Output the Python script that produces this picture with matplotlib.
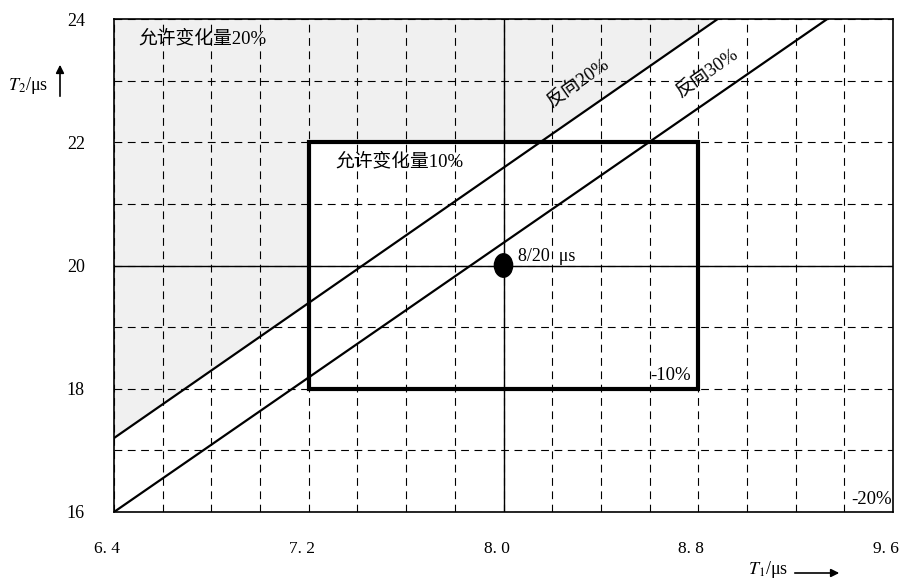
import numpy as np
import matplotlib
matplotlib.use("Agg")
import matplotlib.pyplot as plt
import matplotlib.transforms as mtransforms
from matplotlib.patches import Rectangle, Ellipse, Polygon
from matplotlib.ticker import MultipleLocator

plt.rcParams["font.family"] = ["Liberation Serif", "Noto Sans CJK SC", "DejaVu Sans"]
plt.rcParams["mathtext.fontset"] = "stix"

# ---------------------------------------------------------------------------
# Data
# ---------------------------------------------------------------------------
X_TICKS = [6.4, 7.2, 8.0, 8.8, 9.6]
X_TICK_LABELS = ["6. 4", "7. 2", "8. 0", "8. 8", "9. 6"]
Y_TICKS = [16, 18, 20, 22, 24]

# nominal 8/20 us wave
T1_NOM = 8.0
T2_NOM = 20.0

# allowed variation 10 % box
BOX_T1 = [7.2, 8.8]
BOX_T2 = [18.0, 22.0]

# "反向20%" and "反向30%" boundary lines (end points)
LINE20_T1 = [6.4, 8.88]
LINE20_T2 = [17.2, 24.0]
LINE30_T1 = [6.4, 9.33]
LINE30_T2 = [16.0, 24.0]

XMIN, XMAX = 6.4, 9.6
YMIN, YMAX = 16, 24

fig = plt.figure(figsize=(9.02, 5.82), dpi=100)
ax = fig.add_axes([114 / 902, 1 - 512 / 582, (893 - 114) / 902, (512 - 19) / 582])
ax.set_xlim(XMIN, XMAX)
ax.set_ylim(YMIN, YMAX)

# light shaded zone (20 % region outside the 10 % box)
y_at_box = np.interp(BOX_T1[0], LINE20_T1, LINE20_T2)
x_at_top = np.interp(BOX_T2[1], LINE20_T2, LINE20_T1)
shade = Polygon([(LINE20_T1[0], LINE20_T2[0]), (BOX_T1[0], y_at_box),
                 (BOX_T1[0], BOX_T2[1]), (x_at_top, BOX_T2[1]),
                 (LINE20_T1[1], LINE20_T2[1]), (XMIN, YMAX)],
                closed=True, facecolor="#f0f0f0", edgecolor="none", zorder=0)
ax.add_patch(shade)

# dashed grid
ax.xaxis.set_minor_locator(MultipleLocator(0.2))
ax.yaxis.set_minor_locator(MultipleLocator(1))
ax.grid(which="both", color="black", linestyle=(0, (7, 5)), linewidth=0.8, zorder=1)
ax.set_axisbelow(True)

# solid cross through the nominal point
ax.axvline(T1_NOM, color="black", lw=1.0, zorder=2)
ax.axhline(T2_NOM, color="black", lw=1.0, zorder=2)

# boundary lines
ax.plot(LINE20_T1, LINE20_T2, color="black", lw=1.6, zorder=3)
ax.plot(LINE30_T1, LINE30_T2, color="black", lw=1.6, zorder=3)

# 10 % box
ax.add_patch(Rectangle((BOX_T1[0], BOX_T2[0]), BOX_T1[1] - BOX_T1[0], BOX_T2[1] - BOX_T2[0],
                       fill=False, edgecolor="black", lw=3.0, zorder=4))

# nominal point
ax.add_patch(Ellipse((T1_NOM, T2_NOM), 0.075, 0.38, color="black", zorder=5))

# annotations
fs = 13.5
ax.text(6.5, 23.68, "允许变化量20%", fontsize=fs, ha="left", va="center")
ax.text(7.31, 21.68, "允许变化量10%", fontsize=fs, ha="left", va="center")
ax.text(8.31, 22.95, "反向20%", fontsize=fs, ha="center", va="center", rotation=35)
ax.text(8.84, 23.12, "反向30%", fontsize=fs, ha="center", va="center", rotation=35)
ax.text(8.06, 20.14, "8/20  μs", fontsize=13, ha="left", va="center")
ax.text(8.77, 18.22, "-10%", fontsize=13.5, ha="right", va="center")
ax.text(9.595, 16.2, "-20%", fontsize=13.5, ha="right", va="center")

# ticks
ax.set_xticks(X_TICKS)
ax.set_xticklabels(X_TICK_LABELS, fontsize=12.5)
ax.set_yticks(Y_TICKS)
ax.set_yticklabels([str(v) for v in Y_TICKS], fontsize=13)
ax.tick_params(axis="x", which="both", length=0, pad=21)
ax.tick_params(axis="y", which="both", length=0, pad=21)
offset = mtransforms.ScaledTranslation(-7 / 100, 0, fig.dpi_scale_trans)
for lab in ax.get_xticklabels():
    lab.set_transform(lab.get_transform() + offset)

for sp in ax.spines.values():
    sp.set_linewidth(1.2)

# axis labels with arrows
fig.text(8 / 902, 1 - 86 / 582, "$T_2$/μs", fontsize=13, ha="left", va="center")
ax.annotate("", xy=(60 / 902, 1 - 62 / 582), xytext=(60 / 902, 1 - 99 / 582),
            xycoords="figure fraction", textcoords="figure fraction",
            arrowprops=dict(arrowstyle="-|>", color="black", lw=1.2, mutation_scale=12))
fig.text(748 / 902, 1 - 570 / 582, "$T_1$/μs", fontsize=13, ha="left", va="center")
ax.annotate("", xy=(842 / 902, 1 - 573 / 582), xytext=(792 / 902, 1 - 573 / 582),
            xycoords="figure fraction", textcoords="figure fraction",
            arrowprops=dict(arrowstyle="-|>", color="black", lw=1.2, mutation_scale=12))

fig.savefig("out.png", dpi=100)
